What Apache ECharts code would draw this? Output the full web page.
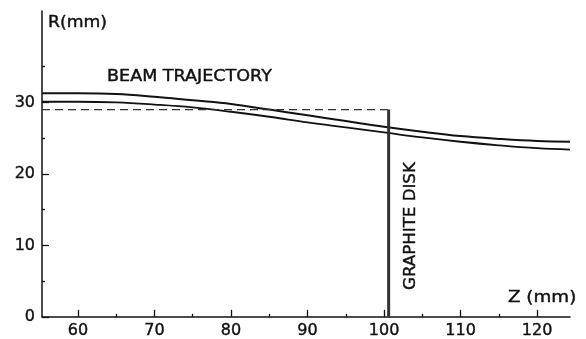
<!DOCTYPE html>
<html>
<head>
<meta charset="utf-8">
<script src="https://cdn.jsdelivr.net/npm/echarts@6/dist/echarts.min.js"></script>
<style>
  html, body { margin: 0; padding: 0; background: #fff; }
  #chart { width: 586px; height: 339px; }
</style>
</head>
<body>
<div id="chart"></div>
<script>
// Axial position Z (mm) of the sampled trajectory points
const zPoints = [55.3, 60, 65, 70, 75, 80, 85, 90, 95, 100, 105, 110, 115, 120, 124.3];
// Outer and inner beam envelope radius R (mm)
const outerR = [31.3, 31.3, 31.2, 30.8, 30.3, 29.8, 29.0, 28.2, 27.4, 26.6, 25.9, 25.3, 24.9, 24.6, 24.5];
const innerR = [30.1, 30.1, 30.0, 29.7, 29.3, 28.7, 28.0, 27.2, 26.5, 25.8, 25.1, 24.5, 24.0, 23.6, 23.4];
// Graphite disk: axial position and radius (dashed reference line)
const diskZ = 100.6;
const diskR = 29.0;
const zStart = 55.3;

// Axis ticks
const zMajor = [60, 70, 80, 90, 100, 110, 120];
const zMinor = [65, 75, 85, 95, 105, 115];
const rMajor = [0, 10, 20, 30];
const rMinor = [5, 15, 25, 35];

const FONT = 'DejaVu Sans';
const xRange = { min: 55.3, max: 124.3 };
const yRange = { min: 0, max: 42.8 };

const chart = echarts.init(document.getElementById('chart'));

function pairs(xs, ys) { return xs.map((x, i) => [x, ys[i]]); }

const tickStyle = { color: '#111', width: 1.3 };
const labelStyle = { fontFamily: FONT, fontSize: 16, color: '#111', textBorderColor: '#111', textBorderWidth: 0.4 };
const noteStyle = { font: '15px "DejaVu Sans"', fill: '#111', stroke: '#111', lineWidth: 0.4 };

chart.setOption({
  animation: false,
  backgroundColor: '#fff',
  grid: { left: 42, right: 16, top: 11, bottom: 18 },
  xAxis: [
    {
      type: 'value', position: 'bottom', ...xRange,
      axisLine: { show: true, lineStyle: { color: '#111', width: 1.5 } },
      axisTick: { show: true, inside: true, length: 7, customValues: zMajor, lineStyle: tickStyle },
      axisLabel: { customValues: zMajor, margin: 6, ...labelStyle },
      splitLine: { show: false }
    },
    {
      type: 'value', position: 'bottom', ...xRange,
      axisLine: { show: false },
      axisTick: { show: true, inside: true, length: 3, customValues: zMinor, lineStyle: tickStyle },
      axisLabel: { show: false },
      splitLine: { show: false }
    }
  ],
  yAxis: [
    {
      type: 'value', position: 'left', ...yRange,
      axisLine: { show: true, lineStyle: { color: '#111', width: 1.5 } },
      axisTick: { show: true, inside: true, length: 7, customValues: rMajor, lineStyle: tickStyle },
      axisLabel: { customValues: rMajor, margin: 7, ...labelStyle },
      splitLine: { show: false }
    },
    {
      type: 'value', position: 'left', ...yRange,
      axisLine: { show: false },
      axisTick: { show: true, inside: true, length: 3, customValues: rMinor, lineStyle: tickStyle },
      axisLabel: { show: false },
      splitLine: { show: false }
    }
  ],
  series: [
    {
      name: 'outer', type: 'line', smooth: 0.4, symbol: 'none',
      data: pairs(zPoints, outerR),
      lineStyle: { color: '#111', width: 2 }
    },
    {
      name: 'inner', type: 'line', smooth: 0.4, symbol: 'none',
      data: pairs(zPoints, innerR),
      lineStyle: { color: '#111', width: 1.8 }
    },
    {
      name: 'diskLevel', type: 'line', symbol: 'none',
      data: [[zStart, diskR], [diskZ, diskR]],
      lineStyle: { color: '#333', width: 1.3, type: [8, 5] }
    },
    {
      name: 'disk', type: 'line', symbol: 'none',
      data: [[diskZ, diskR], [diskZ, 0]],
      lineStyle: { color: '#333', width: 3 }
    }
  ],
  graphic: [
    { type: 'text', x: 48, y: 16, scaleX: 1.15, style: { text: 'R(mm)', ...noteStyle } },
    { type: 'text', x: 508, y: 291, scaleX: 1.22, style: { text: 'Z (mm)', ...noteStyle } },
    { type: 'text', x: 107, y: 70, scaleX: 1.17, style: { text: 'BEAM TRAJECTORY', ...noteStyle } },
    {
      type: 'text', x: 404, y: 290, rotation: Math.PI / 2, scaleX: 1.11,
      style: { text: 'GRAPHITE DISK', ...noteStyle, align: 'left', verticalAlign: 'top' }
    }
  ]
});
</script>
</body>
</html>
